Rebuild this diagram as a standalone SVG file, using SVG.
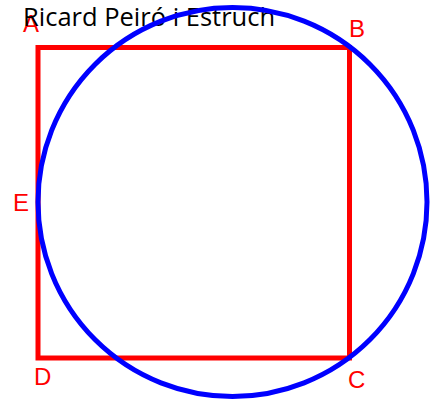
<svg xmlns="http://www.w3.org/2000/svg" width="438" height="403" viewBox="0 0 438 403">
<style>
.lbl{font-family:"Liberation Sans",Arial,sans-serif;font-size:24px;fill:#ff0000}
.title{font-family:"Open Sans","Noto Sans",sans-serif;font-size:25.5px;fill:#000}
</style>
<rect width="438" height="403" fill="#fff"/>
<g id="labels">
<text class="lbl" x="23" y="32">A</text>
<text class="lbl" x="349" y="37">B</text>
<text class="lbl" x="348" y="388">C</text>
<text class="lbl" x="34" y="385">D</text>
<text class="lbl" x="13" y="211">E</text>
</g>
<text class="title" x="23" y="26">Ricard Peiró i Estruch</text>
<g id="square"><rect x="38" y="47.5" width="311.5" height="310.5" fill="none" stroke="#ff0000" stroke-width="5"/></g>
<g id="circle"><circle cx="232.5" cy="202" r="194.5" fill="none" stroke="#0000ff" stroke-width="5"/></g>
</svg>
